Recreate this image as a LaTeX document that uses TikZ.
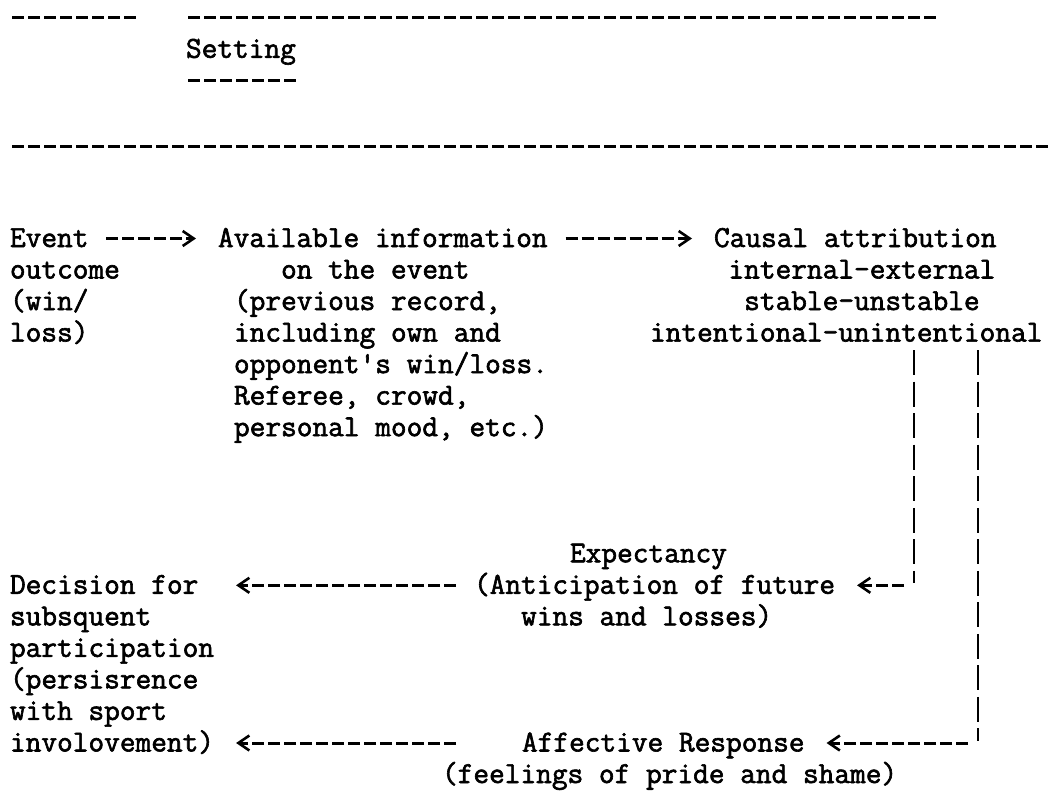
\documentclass[tikz,border=0pt]{standalone}
\usepackage{fontspec}
\newfontfamily\typewriter{Latin Modern Mono}[FakeBold=2]
\usetikzlibrary{arrows.meta,calc}
\tikzset{
  txt/.style={inner sep=0pt, outer sep=0pt, anchor=base west,
    font=\typewriter\fontsize{30.48pt}{31.53pt}\selectfont},
  rulestyle/.style={line width=3pt, dash pattern=on 12pt off 4pt},
  typed/.style={line width=3pt, dash pattern=on 12pt off 4pt,
    -{Straight Barb[length=11pt,width=15pt,line width=2.6pt,sep=4pt]}},
  pipestyle/.style={line width=2.6pt, dash pattern=on 25pt off 6.53pt},
}
\begin{document}
\begin{tikzpicture}[x=1pt,y=-1pt]
\useasboundingbox (0,0) rectangle (1049,798);
\fill[white] (0,0) rectangle (1049,798);

% separator rules
\draw[rulestyle] (12,17.8) -- (136,17.8);
\draw[rulestyle] (188,17.8) -- (936,17.8);
\draw[rulestyle] (188,80.9) -- (296,80.9);
\draw[rulestyle] (12,146) -- (1048,146);

% text blocks
\node[txt] (setting) at (186,57.8) {Setting};

\node[txt] (event)  at (10,247)   {Event};
\node[txt] (eventd) at (10,278.5) {\vtop{\hbox{outcome}\hbox{(win/}\hbox{loss)}}};

\node[txt] (avail)  at (218,247)   {Available information};
\node[txt] (availd) at (234,278.5) {\vtop{\hbox{\phantom{xxx}on the event}\hbox{(previous record,}\hbox{including own and}\hbox{opponent's win/loss.}\hbox{Referee, crowd,}\hbox{personal mood, etc.)}}};

\node[txt] (causal)  at (714,247)   {Causal attribution};
\node[txt] (causald) at (650,278.5) {\vtop{\hbox{\phantom{xxxxx}internal-external}\hbox{\phantom{xxxxxx}stable-unstable}\hbox{intentional-unintentional}}};

\node[txt] (expect)  at (570,562.3) {Expectancy};
\node[txt] (expectd) at (474,593.8) {\vtop{\hbox{(Anticipation of future}\hbox{\phantom{xxx}wins and losses)}}};

\node[txt] (dec) at (10,593.8) {\vtop{\hbox{Decision for}\hbox{subsquent}\hbox{participation}\hbox{(persisrence}\hbox{with sport}\hbox{involovement)}}};

\node[txt] (aff)  at (522,751.5) {Affective Response};
\node[txt] (affd) at (442,783)   {(feelings of pride and shame)};

% connectors
\draw[typed] ([xshift=18pt,yshift=8.5pt]event.base east) -- ([xshift=-18pt,yshift=8.5pt]avail.base west);
\draw[typed] ([xshift=18pt,yshift=8.5pt]avail.base east) -- ([xshift=-18pt,yshift=8.5pt]causal.base west);

\coordinate (pl1) at ([xshift=200pt,yshift=-103.1pt]causal.base west);
\coordinate (pl2) at ([xshift=200pt,yshift=-335.8pt]causal.base west);
\coordinate (pr1) at ([xshift=264pt,yshift=-103.1pt]causal.base west);
\coordinate (pr2) at ([xshift=264pt,yshift=-493.5pt]causal.base west);

\draw[pipestyle] (pl1) -- (pl2);
\draw[typed] ([xshift=-10pt,yshift=-2.5pt]pl2) -- ([xshift=18pt,yshift=8.5pt]expectd.base east);

\draw[pipestyle] (pr1) -- (pr2);
\draw[typed] ([xshift=-10pt,yshift=-2.5pt]pr2) -- ([xshift=18pt,yshift=8.5pt]aff.base east);

\coordinate (s1) at ([xshift=-18pt,yshift=8.5pt]expectd.base west);
\draw[typed] (s1) -- ([xshift=18pt]dec.east |- s1);
\coordinate (s2) at ([xshift=-66pt,yshift=8.5pt]aff.base west);
\draw[typed] (s2) -- ([xshift=18pt]dec.east |- s2);
\end{tikzpicture}
\end{document}
